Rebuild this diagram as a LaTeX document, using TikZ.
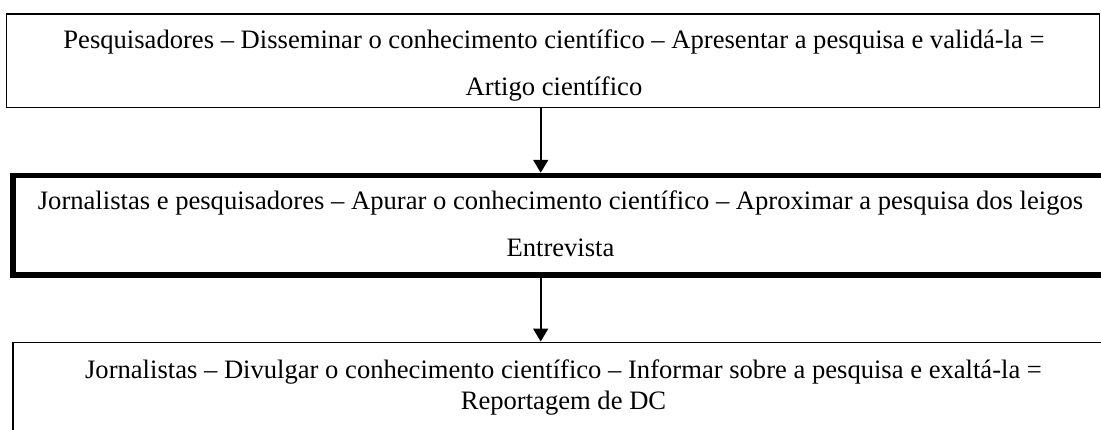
\documentclass[tikz,border=0pt]{standalone}
\usepackage{fontspec}
\setmainfont{Liberation Serif}
\usetikzlibrary{arrows.meta}
\begin{document}
\begin{tikzpicture}[x=1pt,y=-1pt,
  boxthin/.style={draw=black,line width=1.5pt,rectangle,inner sep=0pt,outer sep=0pt},
  boxthick/.style={draw=black,line width=5.5pt,rectangle,inner sep=0pt,outer sep=0pt},
  txt/.style={anchor=base,inner sep=0pt,font=\fontsize{26.6pt}{30pt}\selectfont},
  arr/.style={line width=1.8pt,-{Triangle[width=15pt,length=13pt]}}]
\useasboundingbox (0,0) rectangle (1101,429);
\fill[white] (0,0) rectangle (1101,429);
\begin{scope}
\clip (0,0) rectangle (1101,429);
\node[boxthin, minimum width=1093pt, minimum height=93.5pt] (b1) at (553,60.75) {};
\node[boxthick, minimum width=1095pt, minimum height=99.5pt] (b2) at (560.5,225.25) {};
\node[boxthin, minimum width=1102pt, minimum height=120pt] (b3) at (564,402.3) {};
\node[txt] (t1a) at (554,48.3) {Pesquisadores – Disseminar o conhecimento científico – Apresentar a pesquisa e validá-la =};
\node[txt] (t1b) at (554,95) {Artigo científico};
\node[txt] (t2a) at (560.5,209) {Jornalistas e pesquisadores – Apurar o conhecimento científico – Aproximar a pesquisa dos leigos};
\node[txt] (t2b) at (560.5,256) {Entrevista};
\node[txt] (t3a) at (563.5,378.3) {Jornalistas – Divulgar o conhecimento científico – Informar sobre a pesquisa e exaltá-la =};
\node[txt] (t3b) at (563.5,409) {Reportagem de DC};
\coordinate (ax) at (540.7,0);
\draw[arr, shorten >=2.75pt] (b1.south -| ax) -- (b2.north -| ax);
\draw[arr, shorten >=0.75pt] (b2.south -| ax) -- (b3.north -| ax);
\end{scope}
\end{tikzpicture}
\end{document}
